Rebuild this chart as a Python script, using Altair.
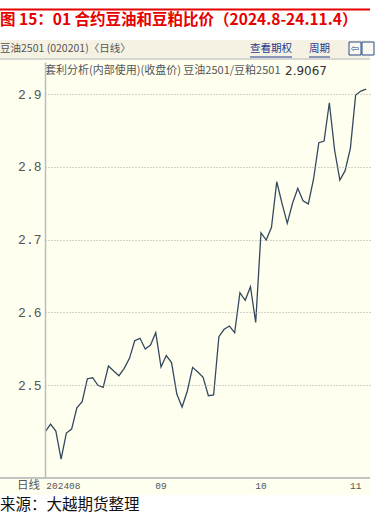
import altair as alt
import pandas as pd

# ratio of soybean oil 2501 / soybean meal 2501 (daily close), Aug 2024 - Nov 4 2024
ratio = [2.4358, 2.4464, 2.4368, 2.3983, 2.4340, 2.4395, 2.4688, 2.4770, 2.5087, 2.5100,
         2.4996, 2.4968, 2.5261, 2.5192, 2.5128, 2.5230, 2.5367, 2.5609, 2.5642, 2.5495,
         2.5550, 2.5719, 2.5247, 2.5405, 2.5309, 2.4876, 2.4698, 2.4918, 2.5243, 2.5179,
         2.5106, 2.4853, 2.4863, 2.5664, 2.5766, 2.5811, 2.5719, 2.6269, 2.6164, 2.6351,
         2.5859, 2.7093, 2.6993, 2.7168, 2.7794, 2.7498, 2.7223, 2.7498, 2.7704, 2.7533,
         2.7490, 2.7832, 2.8331, 2.8354, 2.8880, 2.8230, 2.7818, 2.7946, 2.8254, 2.8986,
         2.9041, 2.9067]
day_index = list(range(len(ratio)))

month_index = [0, 22, 41, 59]
month_labels = ["202408", "09", "10", "11"]
y_ticks = [2.5, 2.6, 2.7, 2.8, 2.9]

title_text = "图 15：01 合约豆油和豆粕比价（2024.8-24.11.4）"
header_text = "豆油2501 (020201)〈日线〉"
legend_text = "套利分析(内部使用)(收盘价) 豆油2501/豆粕2501"
last_value_text = "2.9067"
source_text = "来源：大越期货整理"

W, H = 325, 416
CJK = "Noto Sans CJK SC"

df = pd.DataFrame({"i": day_index, "v": ratio})
mdf = pd.DataFrame({"i": month_index, "lbl": month_labels})
one = pd.DataFrame({"k": [0]})

xscale = alt.Scale(domain=[-0.06, 61.73], nice=False, zero=False)
yscale = alt.Scale(domain=[2.3722, 2.944], nice=False, zero=False)


def rect(x, x2, y, y2, color):
    return alt.Chart(one).mark_rect(color=color).encode(
        x=alt.value(x), x2=alt.value(x2), y=alt.value(y), y2=alt.value(y2))


def hrule(x, x2, y, color, w):
    return alt.Chart(one).mark_rule(color=color, strokeWidth=w).encode(
        x=alt.value(x), x2=alt.value(x2), y=alt.value(y))


def text(t, x, y, size=12, color="#555555", font=CJK, weight="normal", align="left"):
    return alt.Chart(one).mark_text(text=t, font=font, fontSize=size, color=color,
                                    fontWeight=weight, align=align, baseline="middle").encode(
        x=alt.value(x), y=alt.value(y))


bg = rect(-45, 325, -4, 433, "#FFFFF0")
band = rect(-45, 325, -22, -4, "#F5F2E3")
sep = hrule(-45, 325, -3, "#c8c8c8", 1.5)
bottom = hrule(-45, 325, 416, "#c4c4c4", 2)
red_rule = hrule(-45, 325, -52.5, "#e60000", 2)

line = alt.Chart(df).mark_line(color="#34495e", strokeWidth=1.3).encode(
    x=alt.X("i:Q", scale=xscale, axis=None),
    y=alt.Y("v:Q", scale=yscale, axis=alt.Axis(
        values=y_ticks, format=".1f", grid=True, gridDash=[1, 2], gridColor="#a8a8a8",
        domainColor="#bdbdbd", domainWidth=1.5, ticks=False, labelFont="Liberation Mono",
        labelFontSize=13, labelColor="#555555", labelPadding=4, title=None, zindex=1)),
)

first_lbl = alt.Chart(mdf).transform_filter("datum.i == 0").mark_text(
    font="Liberation Mono", fontSize=9.5, color="#555555", align="left", baseline="middle", dx=1
).encode(x=alt.X("i:Q", scale=xscale), y=alt.value(424), text="lbl:N")
other_lbl = alt.Chart(mdf).transform_filter("datum.i > 0").mark_text(
    font="Liberation Mono", fontSize=9.5, color="#555555", align="center", baseline="middle"
).encode(x=alt.X("i:Q", scale=xscale), y=alt.value(424), text="lbl:N")

link_color = "#1f3a8f"
layers = [
    bg, band, sep, bottom, red_rule, line, first_lbl, other_lbl,
    text(title_text, -45, -42, size=15.5, color="#e60000", weight="bold"),
    text(header_text, -45, -13, size=10.5, color="#555555"),
    text("查看期权", 205, -13, size=10.5, color=link_color),
    hrule(205, 247, -5, link_color, 1),
    text("周期", 264, -13, size=10.5, color=link_color),
    hrule(264, 285, -5, link_color, 1),
    alt.Chart(one).mark_rect(fill="#f8f8f0", stroke="#2a4a8a", strokeWidth=1).encode(
        x=alt.value(304), x2=alt.value(316), y=alt.value(-20), y2=alt.value(-7)),
    alt.Chart(one).mark_rect(fill="#f8f8f0", stroke="#2a4a8a", strokeWidth=1).encode(
        x=alt.value(317), x2=alt.value(329), y=alt.value(-20), y2=alt.value(-7)),
    text("⇦", 310, -13, size=10, color="#2a4a8a", font="DejaVu Sans", align="center"),
    text(legend_text, 0, 9, size=11, color="#555555"),
    text(last_value_text, 240, 9, size=12, color="#333333", font="DejaVu Sans"),
    text("日线", -5, 424, size=11.5, color="#555555", align="right"),
    text(source_text, -45, 442.5, size=15.5, color="#111111"),
]

chart = alt.layer(*layers).properties(
    width=W, height=H,
    autosize=alt.AutoSizeParams(type="none"),
    padding={"left": 45, "top": 62, "right": 20, "bottom": 36},
    background="white",
).configure_view(stroke=None)

chart.save("out.html", embed_options={"renderer": "svg", "actions": False})
